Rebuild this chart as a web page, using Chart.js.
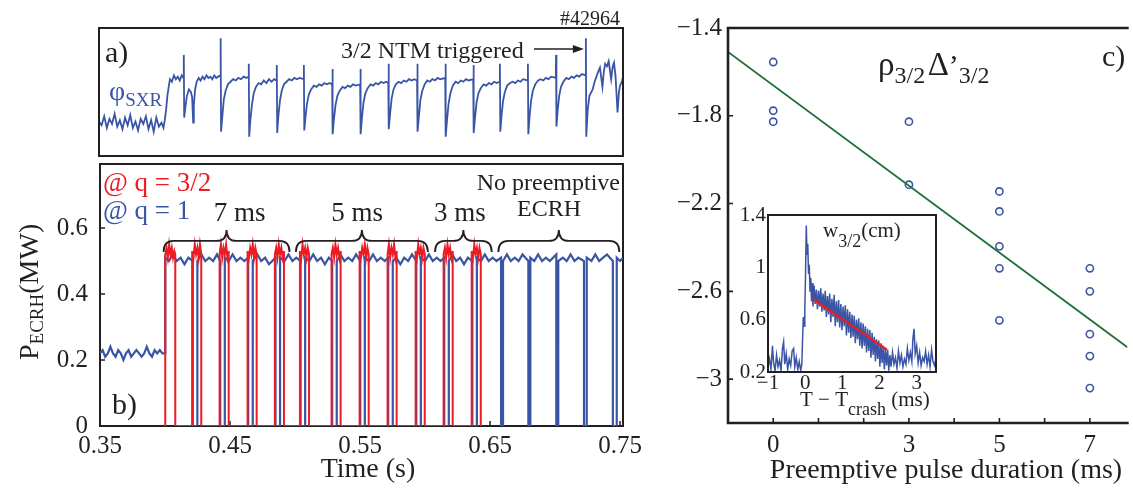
<!DOCTYPE html>
<html>
<head>
<meta charset="utf-8">
<title>Preemptive ECRH and sawtooth-triggered NTM</title>
<script src="https://cdn.jsdelivr.net/npm/chart.js@4.4.1/dist/chart.umd.min.js"></script>
<style>
  html, body { margin: 0; padding: 0; background: #fff; overflow: hidden; }
  #figure { position: relative; width: 1133px; height: 488px; }
  #figure canvas { position: absolute; left: 0; top: 0; }
</style>
</head>
<body>
<div id="figure">
  <canvas id="sxr-chart" width="1133" height="488"></canvas>
  <canvas id="ecrh-chart" width="1133" height="488"></canvas>
  <canvas id="delta-chart" width="1133" height="488"></canvas>
  <canvas id="inset-chart" width="1133" height="488"></canvas>
</div>
<script>
// ---- panel a: SXR phase signal, [time (s), arb. units] ----
const sxrTrace = [
  [0.350,0.27],[0.352,0.24],[0.354,0.31],[0.356,0.22],[0.358,0.29],[0.360,0.25],[0.362,0.33],[0.364,0.23],[0.366,0.28],[0.368,0.21],
  [0.370,0.30],[0.372,0.24],[0.374,0.32],[0.376,0.22],[0.378,0.27],[0.380,0.20],[0.382,0.29],[0.384,0.25],[0.386,0.31],[0.388,0.21],
  [0.390,0.28],[0.392,0.19],[0.394,0.30],[0.396,0.23],[0.398,0.26],[0.3995,0.22],
  [0.4005,0.28],[0.4015,0.36],[0.4025,0.47],[0.4035,0.54],[0.4045,0.60],[0.406,0.58],[0.4075,0.63],[0.409,0.60],[0.4105,0.62],[0.412,0.59],[0.4135,0.63],[0.4149,0.61],
  [0.4151,0.79],[0.4154,0.30],[0.4163,0.38],[0.4175,0.47],[0.419,0.52],[0.4205,0.50],[0.4215,0.46],[0.4223,0.26],[0.4228,0.40],[0.4238,0.52],[0.425,0.58],[0.4265,0.61],
  [0.428,0.59],[0.4295,0.62],[0.431,0.60],[0.4325,0.63],[0.434,0.61],[0.4355,0.62],[0.437,0.60],[0.4385,0.63],[0.440,0.61],[0.4415,0.62],[0.4432,0.63],
  [0.4434,0.92],[0.4437,0.19],[0.4446,0.30],[0.4458,0.44],[0.4472,0.51],[0.449,0.56],[0.451,0.58],[0.453,0.60],[0.455,0.59],[0.457,0.61],[0.459,0.60],[0.461,0.62],[0.463,0.61],[0.4648,0.62],
  [0.4650,0.72],[0.4653,0.15],[0.4662,0.28],[0.4674,0.40],[0.4688,0.49],[0.4705,0.54],[0.4725,0.57],[0.4745,0.56],[0.4765,0.59],[0.4785,0.57],[0.4805,0.60],[0.4825,0.58],[0.4845,0.60],[0.4863,0.59],
  [0.4865,0.71],[0.4868,0.18],[0.4877,0.31],[0.4889,0.43],[0.4903,0.51],[0.492,0.56],[0.494,0.58],[0.496,0.60],[0.498,0.59],[0.500,0.61],[0.502,0.60],[0.504,0.61],[0.5071,0.60],
  [0.5073,0.71],[0.5076,0.20],[0.5085,0.30],[0.5097,0.41],[0.5111,0.48],[0.5128,0.52],[0.515,0.55],[0.517,0.54],[0.519,0.56],[0.521,0.55],[0.523,0.57],[0.525,0.56],[0.527,0.57],[0.529,0.56],
  [0.5292,0.68],[0.5295,0.17],[0.5304,0.29],[0.5316,0.40],[0.533,0.47],[0.5348,0.51],[0.537,0.54],[0.539,0.53],[0.541,0.55],[0.543,0.54],[0.545,0.56],[0.547,0.55],[0.5505,0.56],
  [0.5507,0.68],[0.551,0.17],[0.5519,0.30],[0.5531,0.42],[0.5545,0.49],[0.5563,0.53],[0.5585,0.56],[0.5605,0.55],[0.5625,0.57],[0.5645,0.56],[0.5665,0.58],[0.5685,0.57],[0.5705,0.58],[0.5721,0.57],
  [0.5723,0.72],[0.5726,0.21],[0.5735,0.33],[0.5747,0.45],[0.5761,0.52],[0.5779,0.56],[0.580,0.58],[0.582,0.57],[0.584,0.59],[0.586,0.58],[0.588,0.60],[0.590,0.59],[0.592,0.60],[0.5942,0.59],
  [0.5944,0.72],[0.5947,0.19],[0.5956,0.31],[0.5968,0.44],[0.5982,0.51],[0.600,0.56],[0.602,0.59],[0.604,0.58],[0.606,0.60],[0.608,0.59],[0.610,0.61],[0.612,0.60],[0.6158,0.61],
  [0.6160,0.72],[0.6163,0.15],[0.6172,0.28],[0.6184,0.41],[0.6198,0.49],[0.6216,0.55],[0.6238,0.58],[0.6258,0.57],[0.6278,0.59],[0.6298,0.58],[0.6318,0.60],[0.6338,0.59],[0.6373,0.60],
  [0.6375,0.71],[0.6378,0.18],[0.6387,0.30],[0.6399,0.42],[0.6413,0.49],[0.6431,0.53],[0.6453,0.56],[0.6473,0.55],[0.6493,0.57],[0.6513,0.56],[0.6533,0.58],[0.6553,0.57],[0.6576,0.58],
  [0.6578,0.72],[0.6581,0.19],[0.659,0.31],[0.6602,0.43],[0.6616,0.50],[0.6634,0.55],[0.6656,0.57],[0.6676,0.58],[0.6696,0.57],[0.6716,0.59],[0.6736,0.58],[0.6756,0.60],[0.6791,0.59],
  [0.6793,0.72],[0.6796,0.17],[0.6805,0.30],[0.6817,0.43],[0.6831,0.51],[0.6849,0.56],[0.6871,0.59],[0.6891,0.60],[0.6911,0.59],[0.6931,0.61],[0.6951,0.60],[0.6971,0.62],[0.7007,0.61],
  [0.7009,0.79],[0.7012,0.23],[0.7021,0.35],[0.7033,0.47],[0.7047,0.54],[0.7065,0.58],[0.7087,0.61],[0.7107,0.60],[0.7127,0.62],[0.7147,0.61],[0.7167,0.63],[0.7187,0.62],[0.7207,0.64],[0.7236,0.63],
  [0.7238,0.92],[0.7241,0.15],[0.7252,0.36],[0.7265,0.47],[0.729,0.52],[0.7305,0.58],[0.7319,0.62],[0.7333,0.66],[0.7346,0.69],[0.7365,0.54],[0.7376,0.66],[0.7386,0.72],
  [0.740,0.70],[0.7413,0.74],[0.7432,0.60],[0.7444,0.70],[0.7454,0.73],[0.7466,0.62],[0.7481,0.34],[0.7492,0.50],[0.750,0.55],[0.7515,0.58],[0.7523,0.62]
];

// ---- panel b: ECRH power (MW) deposited at q = 1 and at q = 3/2 ----
const ecrhQ1 = [
  [0.350,0.22],[0.352,0.23],[0.354,0.21],[0.356,0.22],[0.358,0.24],[0.360,0.22],[0.362,0.21],[0.364,0.23],[0.366,0.22],[0.368,0.20],
  [0.370,0.22],[0.372,0.23],[0.374,0.21],[0.376,0.22],[0.378,0.23],[0.380,0.22],[0.382,0.21],[0.384,0.22],[0.386,0.24],[0.388,0.22],
  [0.390,0.21],[0.392,0.23],[0.394,0.22],[0.396,0.23],[0.398,0.22],[0.4002,0.22],
  [0.4002,0.51],[0.403,0.50],[0.406,0.52],[0.409,0.50],[0.412,0.51],[0.415,0.49],[0.418,0.51],[0.4214,0.50],
  [0.4214,0],[0.4249,0],[0.4249,0.50],[0.428,0.52],[0.431,0.50],[0.434,0.51],[0.437,0.50],[0.440,0.52],[0.4425,0.50],
  [0.4425,0],[0.4460,0],[0.4460,0.51],[0.449,0.50],[0.452,0.52],[0.455,0.50],[0.458,0.51],[0.461,0.50],[0.4640,0.51],
  [0.4640,0],[0.4675,0],[0.4675,0.50],[0.471,0.52],[0.474,0.50],[0.477,0.51],[0.480,0.49],[0.4850,0.51],
  [0.4850,0],[0.4885,0],[0.4885,0.51],[0.492,0.50],[0.495,0.52],[0.498,0.50],[0.501,0.51],[0.5043,0.50],
  [0.5043,0],[0.5078,0],[0.5078,0.51],[0.511,0.50],[0.514,0.52],[0.517,0.50],[0.520,0.51],[0.523,0.49],[0.526,0.51],[0.5286,0.50],
  [0.5286,0],[0.5321,0],[0.5321,0.50],[0.535,0.52],[0.538,0.50],[0.541,0.51],[0.544,0.50],[0.547,0.52],[0.5502,0.50],
  [0.5502,0],[0.5537,0],[0.5537,0.51],[0.557,0.50],[0.560,0.52],[0.563,0.50],[0.566,0.51],[0.569,0.50],[0.5717,0.51],
  [0.5717,0],[0.5752,0],[0.5752,0.50],[0.578,0.51],[0.581,0.49],[0.584,0.51],[0.587,0.50],[0.590,0.52],[0.5933,0.50],
  [0.5933,0],[0.5968,0],[0.5968,0.51],[0.600,0.50],[0.603,0.52],[0.606,0.50],[0.609,0.51],[0.612,0.50],[0.6148,0.51],
  [0.6148,0],[0.6183,0],[0.6183,0.50],[0.621,0.52],[0.624,0.50],[0.627,0.51],[0.630,0.49],[0.633,0.51],[0.6364,0.50],
  [0.6364,0],[0.6399,0],[0.6399,0.51],[0.643,0.50],[0.646,0.52],[0.649,0.50],[0.652,0.51],[0.655,0.50],[0.6585,0.51],
  [0.6585,0],[0.6600,0],[0.6600,0.50],[0.663,0.52],[0.666,0.50],[0.669,0.51],[0.672,0.50],[0.675,0.52],[0.6795,0.50],
  [0.6795,0],[0.6810,0],[0.6810,0.51],[0.684,0.50],[0.687,0.52],[0.690,0.50],[0.693,0.51],[0.696,0.50],[0.7010,0.52],
  [0.7010,0],[0.7025,0],[0.7025,0.50],[0.706,0.51],[0.709,0.50],[0.712,0.52],[0.715,0.50],[0.718,0.51],[0.7223,0.50],
  [0.7223,0],[0.7244,0],[0.7244,0.51],[0.728,0.50],[0.731,0.52],[0.734,0.50],[0.737,0.51],[0.740,0.52],[0.7445,0.50],
  [0.7445,0],[0.7475,0],[0.7475,0.51],[0.750,0.50],[0.7523,0.51]
];
const ecrhQ32 = [
  [0.4002,0],[0.4002,0.52],[0.4012,0.54],[0.4022,0.51],[0.4032,0.55],[0.4042,0.52],[0.4052,0.54],[0.4062,0.51],[0.4072,0.53],[0.4079,0.52],[0.4079,0],
  [0.4209,0],[0.4209,0.53],[0.4219,0.51],[0.4229,0.55],[0.4239,0.52],[0.4249,0.54],[0.4259,0.51],[0.4269,0.55],[0.4279,0.52],[0.4279,0],
  [0.4420,0],[0.4420,0.52],[0.4430,0.55],[0.4440,0.51],[0.4450,0.54],[0.4460,0.52],[0.4470,0.55],[0.4480,0.51],[0.4490,0.53],[0.4490,0],
  [0.4635,0],[0.4635,0.53],[0.4645,0.51],[0.4655,0.54],[0.4665,0.52],[0.4675,0.55],[0.4685,0.51],[0.4695,0.54],[0.4705,0.52],[0.4705,0],
  [0.4845,0],[0.4845,0.52],[0.4855,0.54],[0.4865,0.51],[0.4875,0.55],[0.4885,0.52],[0.4895,0.54],[0.4905,0.51],[0.4915,0.53],[0.4915,0],
  [0.5038,0],[0.5038,0.53],[0.5048,0.51],[0.5058,0.55],[0.5068,0.52],[0.5078,0.54],[0.5088,0.51],[0.5098,0.54],[0.5108,0.52],[0.5108,0],
  [0.5281,0],[0.5281,0.52],[0.5291,0.54],[0.5301,0.51],[0.5311,0.55],[0.5321,0.52],[0.5331,0.54],[0.5341,0.51],[0.5351,0.53],[0.5351,0],
  [0.5497,0],[0.5497,0.53],[0.5507,0.51],[0.5517,0.54],[0.5527,0.52],[0.5537,0.55],[0.5547,0.51],[0.5557,0.54],[0.5567,0.52],[0.5567,0],
  [0.5712,0],[0.5712,0.52],[0.5722,0.55],[0.5732,0.51],[0.5742,0.54],[0.5752,0.52],[0.5762,0.55],[0.5772,0.51],[0.5782,0.53],[0.5782,0],
  [0.5928,0],[0.5928,0.53],[0.5938,0.51],[0.5948,0.55],[0.5958,0.52],[0.5968,0.54],[0.5978,0.51],[0.5988,0.54],[0.5998,0.52],[0.5998,0],
  [0.6143,0],[0.6143,0.52],[0.6153,0.54],[0.6163,0.51],[0.6173,0.55],[0.6183,0.52],[0.6193,0.54],[0.6203,0.51],[0.6213,0.53],[0.6213,0],
  [0.6359,0],[0.6359,0.53],[0.6369,0.51],[0.6379,0.55],[0.6389,0.52],[0.6399,0.54],[0.6409,0.51],[0.6419,0.54],[0.6429,0.52],[0.6429,0]
];
const timeTicks = [0.35, 0.45, 0.55, 0.65, 0.75];
const powerTicks = [0, 0.2, 0.4, 0.6];
const braceSpans = [[0.3989, 0.4958], [0.5007, 0.6022], [0.6077, 0.6513], [0.6564, 0.7495]];
const braceLabels = ['7 ms', '5 ms', '3 ms', 'ECRH'];
const braceLabelAt = [0.4574, 0.5477, 0.6269, 0.6954];
const ntmTime = 0.7238;

// ---- panel c: rho*Delta' against preemptive pulse duration ----
const pulseDuration = [0, 0, 0, 3, 3, 5, 5, 5, 5, 5, 7, 7, 7, 7, 7];
const deltaPrime = [-1.555, -1.777, -1.827, -1.827, -2.114, -2.145, -2.236, -2.395, -2.495, -2.732, -2.495, -2.6, -2.795, -2.895, -3.041];
const fitDuration = [-1, 7.83];
const fitDelta = [-1.509, -2.855];
const durationLabels = [0, 3, 5, 7];
const durationTickMarks = [0, 1, 2, 3, 4, 5, 6, 7];
const deltaTicks = [-1.4, -1.8, -2.2, -2.6, -3];

// ---- inset: island width w_3/2 (cm) against T - T_crash (ms) ----
const islandTrace = [
  [-1,0.24],[-0.96,0.30],[-0.92,0.22],[-0.88,0.40],[-0.85,0.27],[-0.81,0.21],[-0.77,0.33],[-0.73,0.24],[-0.69,0.29],[-0.65,0.21],
  [-0.61,0.38],[-0.58,0.43],[-0.55,0.26],[-0.51,0.34],[-0.47,0.22],[-0.43,0.30],[-0.39,0.25],[-0.35,0.36],[-0.31,0.38],[-0.28,0.24],
  [-0.24,0.31],[-0.20,0.22],[-0.16,0.28],[-0.12,0.21],[-0.09,0.26],[-0.07,0.45],[-0.05,0.62],[-0.03,0.55],[-0.01,0.66],
  [0.01,0.95],[0.03,1.32],[0.05,1.10],[0.07,1.18],[0.09,0.95],[0.11,1.02],[0.13,0.82],[0.15,0.92],[0.17,0.74],[0.19,0.88],
  [0.21,0.70],[0.24,0.86],[0.27,0.72],[0.30,0.83],[0.33,0.68],[0.36,0.82],[0.39,0.70],[0.42,0.84],[0.45,0.66],[0.48,0.80],
  [0.51,0.67],[0.54,0.82],[0.57,0.62],[0.60,0.78],[0.63,0.64],[0.66,0.80],[0.69,0.58],[0.72,0.76],[0.75,0.62],[0.78,0.79],
  [0.81,0.55],[0.84,0.74],[0.87,0.58],[0.90,0.75],[0.93,0.54],[0.96,0.72],[0.99,0.52],[1.02,0.70],[1.05,0.55],[1.08,0.71],
  [1.11,0.48],[1.14,0.68],[1.17,0.50],[1.20,0.66],[1.23,0.46],[1.26,0.64],[1.29,0.47],[1.32,0.63],[1.35,0.42],[1.38,0.60],
  [1.41,0.45],[1.44,0.61],[1.47,0.40],[1.50,0.58],[1.53,0.38],[1.56,0.57],[1.59,0.40],[1.62,0.55],[1.65,0.35],[1.68,0.53],
  [1.71,0.36],[1.74,0.52],[1.77,0.31],[1.80,0.50],[1.83,0.33],[1.86,0.47],[1.89,0.28],[1.92,0.45],[1.95,0.30],[1.98,0.44],
  [2.01,0.24],[2.04,0.42],[2.07,0.27],[2.10,0.40],[2.13,0.22],[2.16,0.38],[2.19,0.25],[2.22,0.37],[2.25,0.21],[2.28,0.33],
  [2.31,0.24],[2.35,0.35],[2.39,0.26],[2.43,0.31],[2.47,0.23],[2.51,0.36],[2.55,0.27],[2.59,0.33],[2.63,0.24],[2.67,0.30],
  [2.71,0.26],[2.75,0.38],[2.79,0.29],[2.83,0.35],[2.87,0.28],[2.90,0.46],[2.93,0.53],[2.96,0.34],[3.00,0.40],[3.04,0.27],
  [3.08,0.35],[3.12,0.25],[3.16,0.31],[3.20,0.28],[3.24,0.36],[3.28,0.26],[3.32,0.33],[3.36,0.24],[3.40,0.37],[3.44,0.28],
  [3.48,0.25],[3.52,0.30]
];
const islandFitT = [0.2, 2.2];
const islandFitW = [0.76, 0.37];
const insetTimeTicks = [-1, 0, 1, 2, 3];
const insetWidthTicks = [0.2, 0.6, 1, 1.4];

// ---- drawing setup ----
const W = 1133, H = 488;
const SERIF = '"Liberation Serif", "Times New Roman", serif';
const INK = '#231f20', BLUE = '#3a55a5', RED = '#ec1c24', GREEN = '#1b6e36';

const toPoints = pairs => pairs.map(p => ({ x: p[0], y: p[1] }));
const zipPoints = (xs, ys) => xs.map((x, i) => ({ x: x, y: ys[i] }));
const minus = v => String(v).replace('-', '\u2212');

// linear axis with fixed tick list and a fixed reserved size
function axis(min, max, ticks, format, size, pad, reserve, isX) {
    if (!ticks) return { type: 'linear', min: min, max: max, display: false };
    return {
        type: 'linear', min: min, max: max,
        grid: { display: false, drawTicks: false },
        border: { display: false },
        afterBuildTicks: s => { s.ticks = ticks.map(v => ({ value: v })); },
        afterFit: s => { if (isX) s.height = reserve; else s.width = reserve; },
        ticks: {
            autoSkip: false, maxRotation: 0, padding: pad, color: INK,
            font: { family: SERIF, size: size, lineHeight: 1 },
            callback: format
        }
    };
}

// padding so that the chart area lands on the given box
function place(area, yReserve, xReserve) {
    return { padding: { left: area.left - yReserve, top: area.top, right: W - area.right, bottom: H - area.bottom - xReserve } };
}

function baseOptions(area, yReserve, xReserve, scales) {
    return {
        responsive: false, animation: false, events: [],
        layout: place(area, yReserve, xReserve),
        plugins: { legend: { display: false }, tooltip: { enabled: false } },
        scales: scales
    };
}

// text with sub/superscript pieces: [text, size, dy, color]
function richText(ctx, x, y, parts, align) {
    let total = 0;
    const widths = parts.map(p => {
        ctx.font = p[1] + 'px ' + SERIF;
        const w = ctx.measureText(p[0]).width;
        total += w;
        return w;
    });
    let cx = align === 'right' ? x - total : align === 'center' ? x - total / 2 : x;
    ctx.textAlign = 'left';
    ctx.textBaseline = 'alphabetic';
    parts.forEach((p, i) => {
        ctx.font = p[1] + 'px ' + SERIF;
        ctx.fillStyle = p[3] || INK;
        ctx.fillText(p[0], cx, y + (p[2] || 0));
        cx += widths[i];
    });
}

function strokeSides(ctx, a, sides, lw) {
    ctx.save();
    ctx.strokeStyle = INK;
    ctx.lineWidth = lw;
    ctx.lineCap = 'square';
    ctx.beginPath();
    if (sides.includes('t')) { ctx.moveTo(a.left, a.top); ctx.lineTo(a.right, a.top); }
    if (sides.includes('b')) { ctx.moveTo(a.left, a.bottom); ctx.lineTo(a.right, a.bottom); }
    if (sides.includes('l')) { ctx.moveTo(a.left, a.top); ctx.lineTo(a.left, a.bottom); }
    if (sides.includes('r')) { ctx.moveTo(a.right, a.top); ctx.lineTo(a.right, a.bottom); }
    ctx.stroke();
    ctx.restore();
}

// MATLAB style ticks pointing into the plot
function inwardTicks(chart, yVals, xVals, len, lw) {
    const ctx = chart.ctx, a = chart.chartArea;
    const sx = chart.scales.x, sy = chart.scales.y;
    ctx.save();
    ctx.strokeStyle = INK;
    ctx.lineWidth = lw;
    ctx.beginPath();
    yVals.forEach(v => { const y = sy.getPixelForValue(v); ctx.moveTo(a.left, y); ctx.lineTo(a.left + len, y); });
    xVals.forEach(v => { const x = sx.getPixelForValue(v); ctx.moveTo(x, a.bottom); ctx.lineTo(x, a.bottom - len); });
    ctx.stroke();
    ctx.restore();
}

// curly brace over [x1, x2], horizontal stroke at y, opening downwards
function brace(ctx, x1, x2, y, h) {
    const xm = (x1 + x2) / 2, r = 10;
    ctx.beginPath();
    ctx.moveTo(x1, y + h);
    ctx.quadraticCurveTo(x1, y, x1 + r, y);
    ctx.lineTo(xm - r, y);
    ctx.quadraticCurveTo(xm, y, xm, y - h);
    ctx.quadraticCurveTo(xm, y, xm + r, y);
    ctx.lineTo(x2 - r, y);
    ctx.quadraticCurveTo(x2, y, x2, y + h);
    ctx.stroke();
}

// ---- panel a ----
const areaA = { left: 99, top: 28, right: 623, bottom: 156 };
new Chart(document.getElementById('sxr-chart'), {
    type: 'scatter',
    data: {
        datasets: [{
            data: toPoints(sxrTrace), showLine: true, borderColor: BLUE, borderWidth: 1.8,
            pointRadius: 0, tension: 0
        }]
    },
    options: baseOptions(areaA, 0, 0, {
        x: axis(0.35, 0.7523),
        y: axis(0, 1)
    }),
    plugins: [{
        id: 'panelA',
        afterDraw(chart) {
            const ctx = chart.ctx;
            strokeSides(ctx, chart.chartArea, 'tblr', 2);
            richText(ctx, 105, 62, [['a)', 30]]);
            richText(ctx, 620, 25, [['#42964', 20]], 'right');
            richText(ctx, 109, 100, [['\u03c6', 28, 0, BLUE], ['SXR', 19, 6, BLUE]]);
            richText(ctx, 341, 58, [['3/2 NTM triggered', 24]]);
            // arrow pointing at the NTM crash
            const tip = chart.scales.x.getPixelForValue(ntmTime) - 2;
            ctx.save();
            ctx.strokeStyle = INK; ctx.fillStyle = INK; ctx.lineWidth = 1.6;
            ctx.beginPath(); ctx.moveTo(534, 49); ctx.lineTo(tip - 8, 49); ctx.stroke();
            ctx.beginPath(); ctx.moveTo(tip, 49); ctx.lineTo(tip - 11, 45); ctx.lineTo(tip - 11, 53); ctx.closePath(); ctx.fill();
            ctx.restore();
        }
    }]
});

// ---- panel b ----
const areaB = { left: 100, top: 164, right: 623, bottom: 426 };
new Chart(document.getElementById('ecrh-chart'), {
    type: 'scatter',
    data: {
        datasets: [
            { data: toPoints(ecrhQ32), showLine: true, borderColor: RED, borderWidth: 2, pointRadius: 0, tension: 0 },
            { data: toPoints(ecrhQ1), showLine: true, borderColor: BLUE, borderWidth: 2.2, pointRadius: 0, tension: 0 }
        ]
    },
    options: baseOptions(areaB, 75, 40, {
        x: axis(0.35, 0.7523, timeTicks, v => v.toFixed(2), 25, 8, 40, true),
        y: axis(0, 0.794, powerTicks, v => String(v), 25, 12, 75, false)
    }),
    plugins: [{
        id: 'panelB',
        beforeDatasetsDraw(chart) {
            strokeSides(chart.ctx, chart.chartArea, 'tblr', 2);
            inwardTicks(chart, powerTicks, timeTicks, 5, 1.5);
        },
        afterDraw(chart) {
            const ctx = chart.ctx, sx = chart.scales.x, sy = chart.scales.y;
            ctx.save();
            ctx.strokeStyle = INK;
            ctx.lineWidth = 1.8;
            const yBrace = sy.getPixelForValue(0.561);
            braceSpans.forEach(s => brace(ctx, sx.getPixelForValue(s[0]), sx.getPixelForValue(s[1]), yBrace, 11));
            ctx.restore();
            braceLabels.forEach((t, i) => {
                const big = t !== 'ECRH';
                richText(ctx, sx.getPixelForValue(braceLabelAt[i]), big ? 221 : 216, [[t, big ? 27 : 24]], 'center');
            });
            richText(ctx, 620, 190, [['No preemptive', 24]], 'right');
            richText(ctx, 103, 191, [['@ q = 3/2', 27, 0, RED]]);
            richText(ctx, 103, 219, [['@ q = 1', 27, 0, BLUE]]);
            richText(ctx, 112, 414, [['b)', 30]]);
            richText(ctx, 368, 477, [['Time (s)', 28]], 'center');
            // rotated y title
            ctx.save();
            ctx.translate(38, 360);
            ctx.rotate(-Math.PI / 2);
            richText(ctx, 0, 0, [['P', 28], ['ECRH', 19, 5], ['(MW)', 28]]);
            ctx.restore();
        }
    }]
});

// ---- panel c ----
const areaC = { left: 728, top: 28, right: 1133, bottom: 423 };
new Chart(document.getElementById('delta-chart'), {
    type: 'scatter',
    data: {
        datasets: [
            {
                data: zipPoints(pulseDuration, deltaPrime), pointRadius: 3.6, pointStyle: 'circle',
                borderColor: BLUE, borderWidth: 1.6, backgroundColor: 'rgba(255,255,255,0)'
            },
            {
                data: zipPoints(fitDuration, fitDelta), showLine: true, borderColor: GREEN, borderWidth: 1.8,
                pointRadius: 0, tension: 0
            }
        ]
    },
    options: baseOptions(areaC, 60, 45, {
        x: axis(-1, 7.83, durationLabels, v => String(v), 25, 10, 45, true),
        y: axis(-3.2, -1.4, deltaTicks, minus, 25, 6, 60, false)
    }),
    plugins: [{
        id: 'panelC',
        afterDraw(chart) {
            const ctx = chart.ctx;
            strokeSides(ctx, chart.chartArea, 'tbl', 2.6);
            inwardTicks(chart, deltaTicks, durationTickMarks, 5, 1.6);
            richText(ctx, 878, 75, [['\u03c1', 33], ['3/2', 24, 8], [' ', 10], ['\u0394', 33], ['\u2019', 30], ['3/2', 24, 8]]);
            richText(ctx, 1102, 66, [['c)', 30]]);
            richText(ctx, 946, 478, [['Preemptive pulse duration (ms)', 28]], 'center');
        }
    }]
});

// ---- inset ----
const areaI = { left: 768, top: 215, right: 936, bottom: 372 };
new Chart(document.getElementById('inset-chart'), {
    type: 'scatter',
    data: {
        datasets: [
            {
                data: zipPoints(islandFitT, islandFitW), showLine: true, borderColor: RED, borderWidth: 2.2,
                pointRadius: 0, tension: 0
            },
            { data: toPoints(islandTrace), showLine: true, borderColor: BLUE, borderWidth: 1.5, pointRadius: 0, tension: 0 }
        ]
    },
    options: baseOptions(areaI, 36, 25, {
        x: axis(-1, 3.52, insetTimeTicks, minus, 21, 1, 25, true),
        y: axis(0.2, 1.4, insetWidthTicks, v => String(v), 21, 2, 36, false)
    }),
    plugins: [{
        id: 'inset',
        beforeDraw(chart) {
            const a = chart.chartArea, ctx = chart.ctx;
            ctx.save();
            ctx.fillStyle = '#fff';
            ctx.fillRect(a.left, a.top, a.right - a.left, a.bottom - a.top);
            ctx.restore();
        },
        afterDraw(chart) {
            const ctx = chart.ctx;
            strokeSides(ctx, chart.chartArea, 'tblr', 2);
            richText(ctx, 823, 237, [['w', 21], ['3/2', 18, 10], ['(cm)', 21]]);
            richText(ctx, 800, 406, [['T \u2212 T', 21], ['crash', 18, 9], [' (ms)', 21]]);
        }
    }]
});
</script>
</body>
</html>
